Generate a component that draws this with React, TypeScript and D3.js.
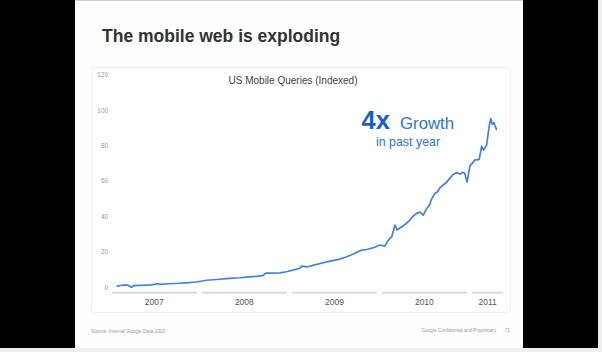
import React from "react";
import * as d3 from "d3";

const dates = [
  "2007-01-31","2007-02-14","2007-03-01","2007-03-18","2007-04-01","2007-04-10","2007-05-25","2007-06-20",
  "2007-07-17","2007-07-25","2007-09-01","2007-10-14","2007-11-20","2007-12-20","2008-01-30","2008-03-10",
  "2008-05-05","2008-06-15","2008-07-20","2008-08-21","2008-09-15","2008-09-25","2008-10-01","2008-11-24",
  "2008-12-20","2009-01-23","2009-02-10","2009-02-20","2009-03-12","2009-04-10","2009-05-10","2009-06-15",
  "2009-07-20","2009-08-22","2009-09-20","2009-10-15","2009-11-15","2009-12-10","2010-01-03","2010-01-23",
  "2010-02-06","2010-02-20","2010-03-05","2010-03-14","2010-03-25","2010-04-05","2010-04-21","2010-05-01",
  "2010-05-15","2010-06-01","2010-06-15","2010-06-28","2010-07-12","2010-07-25","2010-08-01","2010-08-14",
  "2010-08-25","2010-09-05","2010-09-17","2010-09-28","2010-10-10","2010-10-27","2010-11-10","2010-11-25",
  "2010-12-05","2010-12-13","2010-12-23","2011-01-03","2011-01-23","2011-02-10","2011-02-20","2011-02-28",
  "2011-03-12","2011-03-23","2011-03-29","2011-04-04","2011-04-11","2011-04-22"
];
const values = [
  0.5,1.0,1.3,1.2,0.0,1.0,1.2,1.4,
  2.0,1.7,2.0,2.3,2.6,3.0,4.0,4.4,
  5.0,5.4,5.9,6.2,6.6,7.9,8.0,8.2,
  8.8,10.0,10.6,12.0,11.5,12.5,13.6,14.8,
  15.8,17.3,19.0,20.7,21.5,22.5,23.9,23.3,
  26.7,28.5,35.2,32.4,33.5,34.5,36.1,37.5,
  39.8,41.8,42.5,40.8,44.6,47.0,50.0,53.0,
  54.0,56.5,57.8,59.0,61.0,63.8,64.8,64.0,
  65.0,64.4,59.6,68.5,71.9,72.3,79.8,77.5,
  80.4,91.6,95.4,92.2,93.0,88.8
];
const yTicks = [0, 20, 40, 60, 80, 100, 120];
const years = [2007, 2008, 2009, 2010, 2011];

export default function App() {
  const W = 602, H = 352;
  const parse = d3.timeParse("%Y-%m-%d");
  const data = dates.map((d, i) => ({ date: parse(d) as Date, value: values[i] }));

  const x = d3.scaleTime()
    .domain([new Date(2007, 0, 1), new Date(2012, 0, 1)])
    .range([109.3, 559.3]);
  const y = d3.scaleLinear().domain([0, 120]).range([287.3, 75]);
  const xEnd = 503.3;

  const line = d3.line<{ date: Date; value: number }>()
    .x(d => x(d.date))
    .y(d => y(d.value))
    .curve(d3.curveLinear);

  const font = "Liberation Sans, Arial, sans-serif";

  return (
    <svg width={W} height={H} style={{ position: "absolute", left: 0, top: 0, display: "block" }}
      fontFamily={font}>
      <rect x={0} y={0} width={W} height={H} fill="#eeeeee" />
      <rect x={0} y={0} width={598} height={348} fill="#000" />
      <rect x={75} y={1} width={448} height={347} fill="#fdfefe" />
      <line x1={75} x2={523} y1={0.5} y2={0.5} stroke="#cfcfcf" />

      <text x={102} y={42} fontSize={17.5} fontWeight="bold" fill="#333">The mobile web is exploding</text>

      <rect x={91.5} y={67.5} width={419} height={245} rx={3} fill="#fff" stroke="#efefef" />

      {yTicks.map(t => (
        <text key={t} x={108} y={y(t)} dy="0.35em" textAnchor="end" fontSize={6.4} fill="#9a9a9a">{t}</text>
      ))}

      <text x={293} y={84} textAnchor="middle" fontSize={10} fill="#444">US Mobile Queries (Indexed)</text>

      {years.map(yr => {
        const x0 = x(new Date(yr, 0, 1)) + 2.5;
        const x1 = Math.min(x(new Date(yr + 1, 0, 1)) - 2.5, xEnd);
        return (
          <g key={yr}>
            <rect x={x0} y={291.7} width={x1 - x0} height={2} fill="#dcdcdc" />
            <text x={(x0 + x1) / 2} y={304.5} textAnchor="middle" fontSize={8.5} fill="#555">{yr}</text>
          </g>
        );
      })}

      <path d={line(data) || ""} fill="none" stroke="#4282d8" strokeWidth={1.7} strokeLinejoin="round" />

      <text x={361.5} y={129} fontSize={25.5} fontWeight="bold" fill="#1b5ec8">4x</text>
      <text x={400} y={129} fontSize={16.8} fill="#2f76d2">Growth</text>
      <text x={376} y={146} fontSize={12.4} fill="#2f76d2">in past year</text>

      <text x={91} y={333} fontSize={4.8} fill="#9a9a9a">Source: Internal Google Data 2010</text>
      <text x={496} y={332} textAnchor="end" fontSize={4.7} fill="#9a9a9a">Google Confidential and Proprietary</text>
      <text x={510} y={332} textAnchor="end" fontSize={4.7} fill="#9a9a9a">71</text>
    </svg>
  );
}
